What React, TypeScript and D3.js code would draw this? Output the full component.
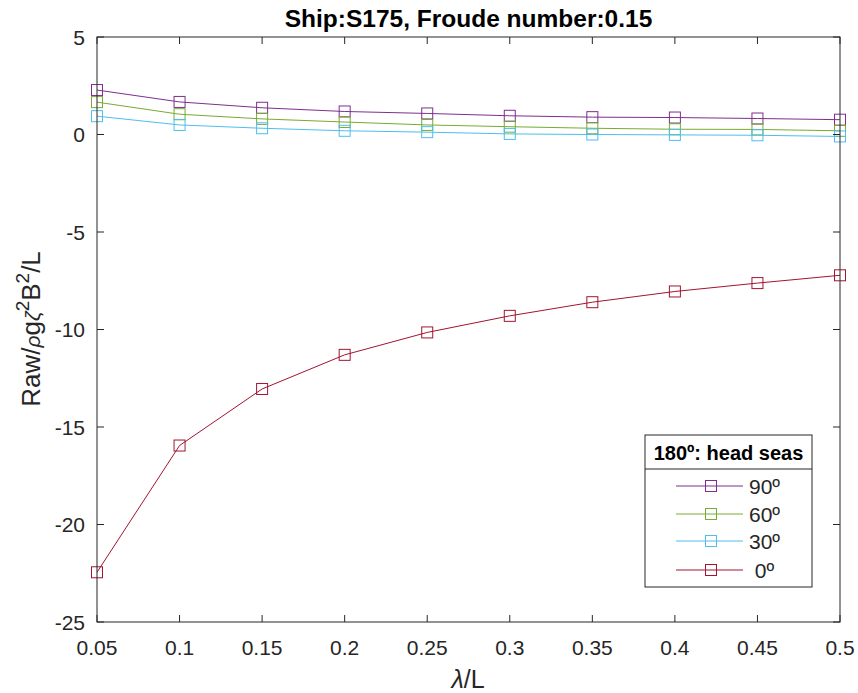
import React from "react";
import * as d3 from "d3";

const lambdaL = [0.05, 0.1, 0.15, 0.2, 0.25, 0.3, 0.35, 0.4, 0.45, 0.5];
const s90 = [2.28, 1.67, 1.37, 1.18, 1.08, 0.96, 0.89, 0.87, 0.82, 0.76];
const s60 = [1.66, 1.04, 0.8, 0.64, 0.49, 0.4, 0.32, 0.27, 0.26, 0.19];
const s30 = [0.94, 0.49, 0.32, 0.19, 0.12, 0.03, 0.0, -0.02, -0.04, -0.1];
const s0 = [-22.45, -15.95, -13.05, -11.3, -10.15, -9.3, -8.6, -8.05, -7.62, -7.22];
const seriesNames = ["90º", "60º", "30º", " 0º"];
const xTicks = [0.05, 0.1, 0.15, 0.2, 0.25, 0.3, 0.35, 0.4, 0.45, 0.5];
const yTicks = [5, 0, -5, -10, -15, -20, -25];

const colors = ["#7E2F8E", "#77AC30", "#4DBEEE", "#A2142F"];

export default function App() {
  const W = 858, H = 693;
  const L = 97, R = 840, T = 37, B = 622;
  const x = d3.scaleLinear().domain([0.05, 0.5]).range([L, R]);
  const y = d3.scaleLinear().domain([-25, 5]).range([B, T]);
  const line = d3.line<[number, number]>().x(d => x(d[0])).y(d => y(d[1]));
  const data = [s90, s60, s30, s0];
  const font = "'Liberation Sans', Arial, sans-serif";
  const ms = 11;
  const tk = 7;
  const legX = 645, legY = 435, legW = 167, legH = 152;
  const itemYs = [486, 514, 541, 570];
  return (
    <svg width={W} height={H} style={{ position: "absolute", left: 0, top: 0, background: "#fff" }} fontFamily={font}>
      <rect x={0} y={0} width={W} height={H} fill="#fff" />
      <rect x={L} y={T} width={R - L} height={B - T} fill="#fff" />
      {data.map((s, i) => {
        const pts: [number, number][] = lambdaL.map((v, j) => [v, s[j]]);
        return (
          <g key={i}>
            <path d={line(pts) || ""} fill="none" stroke={colors[i]} strokeWidth={1} />
            {pts.map((p, j) => (
              <rect key={j} x={x(p[0]) - ms / 2} y={y(p[1]) - ms / 2} width={ms} height={ms} fill="none" stroke={colors[i]} strokeWidth={1} />
            ))}
          </g>
        );
      })}
      <rect x={L} y={T} width={R - L} height={B - T} fill="none" stroke="#262626" strokeWidth={1} />
      {xTicks.map((t, i) => (
        <g key={i}>
          <line x1={x(t)} x2={x(t)} y1={B} y2={B - tk} stroke="#262626" />
          <line x1={x(t)} x2={x(t)} y1={T} y2={T + tk} stroke="#262626" />
          <text x={x(t)} y={655} textAnchor="middle" fontSize={21} fill="#262626">{String(t)}</text>
        </g>
      ))}
      {yTicks.map((t, i) => (
        <g key={i}>
          <line x1={L} x2={L + tk} y1={y(t)} y2={y(t)} stroke="#262626" />
          <line x1={R} x2={R - tk} y1={y(t)} y2={y(t)} stroke="#262626" />
          <text x={85} y={y(t) + 7.5} textAnchor="end" fontSize={21} fill="#262626">{String(t)}</text>
        </g>
      ))}
      <text x={468.5} y={27} textAnchor="middle" fontSize={24.5} fontWeight="bold" fill="#000">Ship:S175, Froude number:0.15</text>
      <text x={468} y={688} textAnchor="middle" fontSize={25} fill="#262626">
        <tspan fontStyle="italic">λ</tspan>/L
      </text>
      <text transform={`translate(40, 329) rotate(-90)`} textAnchor="middle" fontSize={26} fill="#262626">
        Raw/<tspan fontSize={21} fontStyle="italic">ρ</tspan>g<tspan fontSize={21} fontStyle="italic">ζ</tspan><tspan fontSize={19} dy={-11}>2</tspan><tspan dy={11}>B</tspan><tspan fontSize={19} dy={-11}>2</tspan><tspan dy={11}>/L</tspan>
      </text>
      <rect x={legX} y={legY} width={legW} height={legH} fill="#fff" stroke="#262626" strokeWidth={1} />
      <line x1={legX} x2={legX + legW} y1={469} y2={469} stroke="#262626" />
      <text x={legX + legW / 2} y={460} textAnchor="middle" fontSize={20} fontWeight="bold" fill="#000">180º: head seas</text>
      {seriesNames.map((n, i) => (
        <g key={i}>
          <line x1={676} x2={743} y1={itemYs[i]} y2={itemYs[i]} stroke={colors[i]} />
          <rect x={711 - ms / 2} y={itemYs[i] - ms / 2} width={ms} height={ms} fill="none" stroke={colors[i]} />
          <text x={749} y={itemYs[i] + 7.5} fontSize={21} fill="#262626" style={{ whiteSpace: "pre" }}>{n}</text>
        </g>
      ))}
    </svg>
  );
}
